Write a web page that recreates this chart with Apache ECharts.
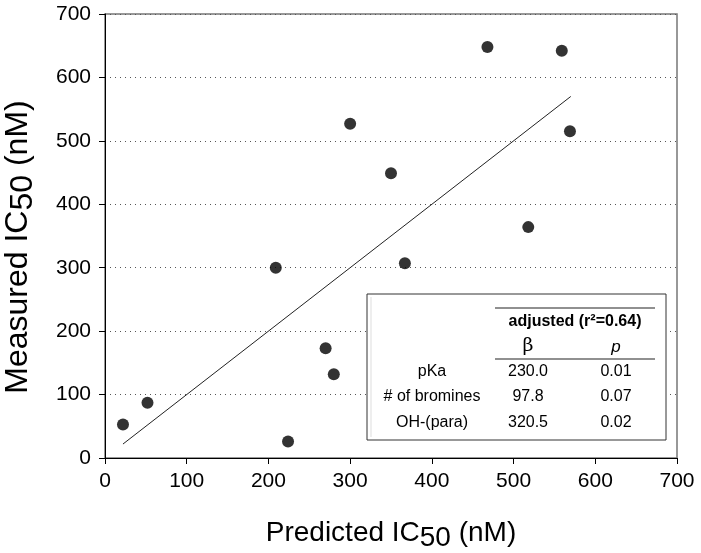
<!DOCTYPE html>
<html><head><meta charset="utf-8">
<script src="https://cdn.jsdelivr.net/npm/echarts@6/dist/echarts.min.js"></script>
<style>html,body{margin:0;padding:0;background:#fff}#c{width:701px;height:553px}</style>
</head><body><div id="c"></div>
<script>
const predicted = [22, 52, 224, 209, 300, 350, 367, 270, 280, 468, 559, 569, 518];
const measured  = [53, 87, 26, 300, 527, 449, 307, 173, 132, 648, 642, 515, 364];
const fitLine = [[22, 22], [570, 570]];
const tableHeader = 'adjusted (r²=0.64)';
const rowLabels = ['pKa', '# of bromines', 'OH-(para)'];
const betaValues = ['230.0', '97.8', '320.5'];
const pValues = ['0.01', '0.07', '0.02'];

const FONT = 'Liberation Sans, Arial, sans-serif';
const chart = echarts.init(document.getElementById('c'));

const tableEls = [];
tableEls.push({type:'rect', shape:{x:367,y:294,width:299,height:146}, style:{fill:'#fff',stroke:'#333',lineWidth:1}, z:10});
tableEls.push({type:'line', shape:{x1:371,y1:297,x2:371,y2:437}, style:{stroke:'#ddd',lineWidth:1}, z:11});
tableEls.push({type:'line', shape:{x1:495,y1:308,x2:655,y2:308}, style:{stroke:'#222',lineWidth:1.2}, z:11});
tableEls.push({type:'line', shape:{x1:495,y1:359,x2:655,y2:359}, style:{stroke:'#222',lineWidth:1.2}, z:11});
tableEls.push({type:'text', x:575, y:322, style:{text:tableHeader, font:'bold 16px '+FONT, fill:'#000', align:'center', verticalAlign:'middle'}, z:11});
tableEls.push({type:'text', x:528, y:346, style:{text:'β', font:'19px DejaVu Serif, serif', fill:'#000', align:'center', verticalAlign:'middle'}, z:11});
tableEls.push({type:'text', x:616, y:347, style:{text:'p', font:'italic 17px '+FONT, fill:'#000', align:'center', verticalAlign:'middle'}, z:11});
const rowY = [372, 397, 423];
rowLabels.forEach((lab, i) => {
  tableEls.push({type:'text', x:432, y:rowY[i], style:{text:lab, font:'16px '+FONT, fill:'#000', align:'center', verticalAlign:'middle'}, z:11});
  tableEls.push({type:'text', x:528, y:rowY[i], style:{text:betaValues[i], font:'16px '+FONT, fill:'#000', align:'center', verticalAlign:'middle'}, z:11});
  tableEls.push({type:'text', x:616, y:rowY[i], style:{text:pValues[i], font:'16px '+FONT, fill:'#000', align:'center', verticalAlign:'middle'}, z:11});
});

chart.setOption({
  animation: false,
  backgroundColor: '#fff',
  textStyle: {fontFamily: FONT},
  grid: {left:105, right:24, top:14, bottom:95, containLabel:false, outerBoundsMode:'none', show:true, borderColor:'#777', borderWidth:1.5, backgroundColor:'transparent'},
  xAxis: {
    type:'value', min:0, max:700, interval:100,
    name:'Predicted IC{sub|50} (nM)', nameLocation:'middle', nameGap:56,
    nameTextStyle:{fontSize:28, color:'#000', fontFamily:FONT, rich:{sub:{fontSize:28, padding:[10,0,0,0], color:'#000', fontFamily:FONT}}},
    axisLine:{show:true, onZero:false, lineStyle:{color:'#000', width:1}},
    axisTick:{show:true, inside:false, length:6, lineStyle:{color:'#000'}},
    axisLabel:{fontSize:21, color:'#000', margin:13, fontFamily:FONT},
    splitLine:{show:false}
  },
  yAxis: {
    type:'value', min:0, max:700, interval:100,
    name:'Measured IC{sub|50} (nM)', nameLocation:'middle', nameGap:66,
    nameTextStyle:{fontSize:32, color:'#000', fontFamily:FONT, padding:[0,22,0,0], rich:{sub:{fontSize:32, padding:[10,0,0,0], color:'#000', fontFamily:FONT}}},
    axisLine:{show:true, onZero:false, lineStyle:{color:'#000', width:1}},
    axisTick:{show:true, inside:false, length:6, lineStyle:{color:'#000'}},
    axisLabel:{fontSize:21, color:'#000', margin:14, fontFamily:FONT},
    splitLine:{show:true, lineStyle:{color:'#555', type:[1,4], width:1}}
  },
  series: [
    {type:'line', data:fitLine, symbol:'none', lineStyle:{color:'#222', width:1}, silent:true, z:2},
    {type:'scatter', data:predicted.map((p,i)=>[p, measured[i]]), symbol:'circle', symbolSize:12, itemStyle:{color:'#000'}, z:3}
  ],
  graphic: tableEls
});
</script></body></html>
